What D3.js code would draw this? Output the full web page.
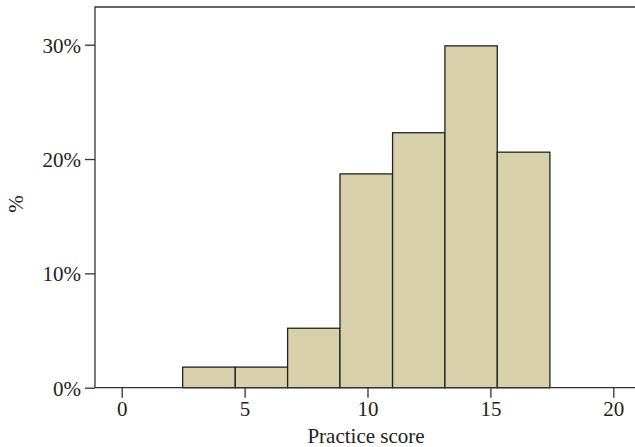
<!DOCTYPE html>
<html>
<head>
<meta charset="utf-8">
<script src="https://cdn.jsdelivr.net/npm/d3@7"></script>
<style>
  html, body { margin: 0; padding: 0; background: #fff; }
  svg { display: block; font-family: "Liberation Serif", "DejaVu Serif", serif; }
</style>
</head>
<body>
<svg id="chart" width="635" height="447"></svg>
<script>
// Histogram of practice scores (percent of students per bin)
const binEdges = [2.48, 4.62, 6.75, 8.88, 11.02, 13.15, 15.28, 17.42];
const percents = [1.8, 1.8, 5.2, 18.7, 22.3, 29.9, 20.6];
const xTicks = [0, 5, 10, 15, 20];
const yTicks = [0, 10, 20, 30];

const bins = percents.map((p, i) => ({ x0: binEdges[i], x1: binEdges[i + 1], pct: p }));

const svg = d3.select('#chart');

// Plot frame
const frameLeft = 95, frameRight = 635, frameTop = 7, frameBottom = 387.7;

const x = d3.scaleLinear().domain([0, 20]).range([121.7, 613.3]);
const y = d3.scaleLinear().domain([0, 30]).range([frameBottom, 44.7]);

// Bars
svg.selectAll('.bar')
  .data(bins)
  .enter()
  .append('rect')
  .attr('class', 'bar')
  .attr('x', (d) => x(d.x0))
  .attr('y', (d) => y(d.pct))
  .attr('width', (d) => x(d.x1) - x(d.x0))
  .attr('height', (d) => y(0) - y(d.pct))
  .attr('fill', '#d8d0aa')
  .attr('stroke', '#222')
  .attr('stroke-width', 1.3);

// Frame lines: left, top, bottom
svg.append('path')
  .attr('d', `M${frameRight},${frameTop}H${frameLeft}V${frameBottom}H${frameRight}`)
  .attr('fill', 'none')
  .attr('stroke', '#333')
  .attr('stroke-width', 1.3);

// X axis
const xAxis = svg.append('g')
  .attr('transform', `translate(0,${frameBottom})`)
  .call(d3.axisBottom(x).tickValues(xTicks).tickSize(10).tickPadding(3));
xAxis.select('.domain').remove();
xAxis.selectAll('line').attr('stroke', '#333').attr('stroke-width', 1.3);
xAxis.selectAll('text')
  .attr('fill', '#222')
  .style('font-family', '"Liberation Serif", serif')
  .style('font-size', '21px');

// Y axis
const yAxis = svg.append('g')
  .attr('transform', `translate(${frameLeft},0)`)
  .call(d3.axisLeft(y).tickValues(yTicks).tickSize(10).tickPadding(4).tickFormat((d) => d + '%'));
yAxis.select('.domain').remove();
yAxis.selectAll('line').attr('stroke', '#333').attr('stroke-width', 1.3);
yAxis.selectAll('text')
  .attr('fill', '#222')
  .attr('dy', '0.35em')
  .style('font-family', '"Liberation Serif", serif')
  .style('font-size', '21px');

// Axis titles
svg.append('text')
  .attr('x', 366)
  .attr('y', 443)
  .attr('text-anchor', 'middle')
  .attr('fill', '#222')
  .style('font-size', '21px')
  .text('Practice score');

svg.append('text')
  .attr('transform', 'translate(23,204) rotate(-90)')
  .attr('text-anchor', 'middle')
  .attr('fill', '#222')
  .style('font-size', '21px')
  .text('%');
</script>
</body>
</html>
